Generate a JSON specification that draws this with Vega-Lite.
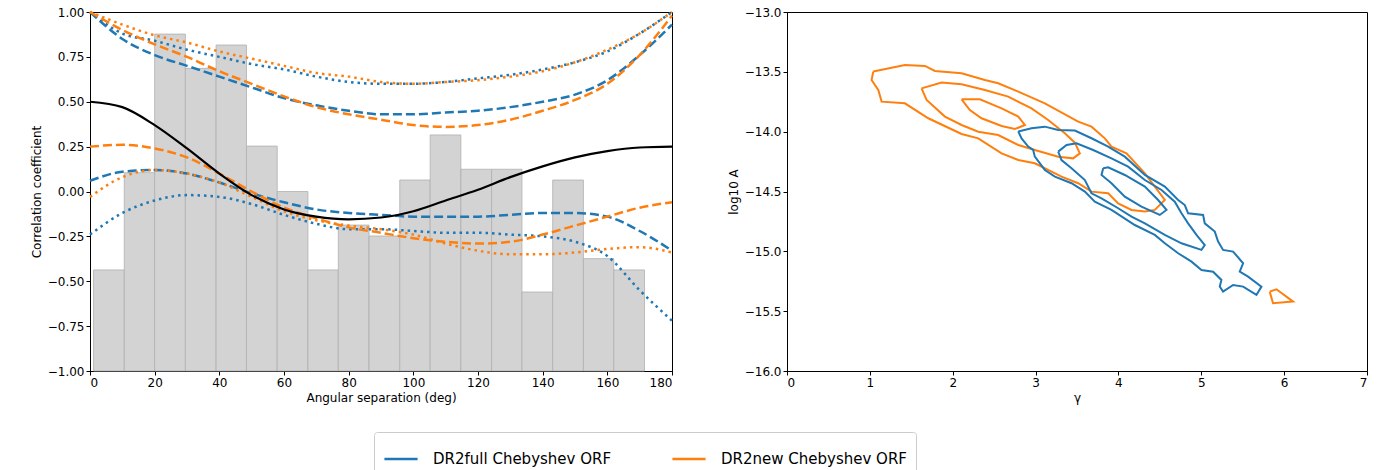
{
"$schema":"https://vega.github.io/schema/vega-lite/v6.json",
"padding":{"left":29,"top":5,"right":5,"bottom":5},
"config":{"font":"DejaVu Sans","view":{"stroke":"#000","strokeWidth":1},
"axis":{"grid":false,"domainColor":"#000","tickColor":"#000","labelColor":"#000","titleColor":"#000","labelFontSize":12,"titleFontSize":12,"titleFontWeight":"normal","tickSize":4},
"legend":{"orient":"none","legendX":284,"legendY":420,"direction":"horizontal","strokeColor":"#ccc","padding":9,"cornerRadius":3,"labelFontSize":15,"labelOffset":14,"symbolType":"stroke","symbolStrokeWidth":2.5,"symbolSize":1100,"columnPadding":55,"labelLimit":300,"title":null}},
"spacing":48,
"datasets":{
"bars":[{"a":1.1,"b":10.6,"v":-0.437},{"a":10.6,"b":20.0,"v":0.105},{"a":20.0,"b":29.5,"v":0.877},{"a":29.5,"b":39.0,"v":0.686},{"a":39.0,"b":48.4,"v":0.816},{"a":48.4,"b":57.9,"v":0.253},{"a":57.9,"b":67.4,"v":0.0},{"a":67.4,"b":76.8,"v":-0.437},{"a":76.8,"b":86.3,"v":-0.187},{"a":86.3,"b":95.8,"v":-0.248},{"a":95.8,"b":105.2,"v":0.064},{"a":105.2,"b":114.7,"v":0.315},{"a":114.7,"b":124.2,"v":0.124},{"a":124.2,"b":133.6,"v":0.124},{"a":133.6,"b":143.1,"v":-0.56},{"a":143.1,"b":152.6,"v":0.064},{"a":152.6,"b":162.0,"v":-0.374},{"a":162.0,"b":171.5,"v":-0.437}],
"curves":[
{"x":0,"hd":0.5,"bdu":1.0,"odu":1.0,"bou":1.0,"oou":1.0,"odl":0.25,"bdl":0.06,"ool":-0.03,"bol":-0.24},
{"x":10,"hd":0.47,"bdu":0.85,"odu":0.9,"bou":0.88,"oou":0.93,"odl":0.26,"bdl":0.11,"ool":0.08,"bol":-0.12},
{"x":20,"hd":0.37,"bdu":0.76,"odu":0.82,"bou":0.84,"oou":0.87,"odl":0.24,"bdl":0.12,"ool":0.12,"bol":-0.05},
{"x":30,"hd":0.24,"bdu":0.7,"odu":0.75,"bou":0.79,"oou":0.83,"odl":0.19,"bdl":0.1,"ool":0.1,"bol":-0.02},
{"x":40,"hd":0.1,"bdu":0.64,"odu":0.67,"bou":0.75,"oou":0.78,"odl":0.1,"bdl":0.05,"ool":0.05,"bol":-0.03},
{"x":50,"hd":-0.02,"bdu":0.58,"odu":0.6,"bou":0.71,"oou":0.74,"odl":0.0,"bdl":-0.01,"ool":-0.03,"bol":-0.07},
{"x":60,"hd":-0.1,"bdu":0.52,"odu":0.53,"bou":0.68,"oou":0.7,"odl":-0.09,"bdl":-0.06,"ool":-0.11,"bol":-0.13},
{"x":70,"hd":-0.14,"bdu":0.48,"odu":0.47,"bou":0.64,"oou":0.66,"odl":-0.15,"bdl":-0.1,"ool":-0.16,"bol":-0.18},
{"x":80,"hd":-0.155,"bdu":0.45,"odu":0.43,"bou":0.61,"oou":0.64,"odl":-0.2,"bdl":-0.12,"ool":-0.19,"bol":-0.21},
{"x":90,"hd":-0.145,"bdu":0.43,"odu":0.4,"bou":0.6,"oou":0.61,"odl":-0.23,"bdl":-0.13,"ool":-0.21,"bol":-0.21},
{"x":100,"hd":-0.11,"bdu":0.43,"odu":0.37,"bou":0.6,"oou":0.6,"odl":-0.26,"bdl":-0.14,"ool":-0.24,"bol":-0.22},
{"x":110,"hd":-0.05,"bdu":0.44,"odu":0.36,"bou":0.61,"oou":0.61,"odl":-0.28,"bdl":-0.14,"ool":-0.29,"bol":-0.23},
{"x":120,"hd":0.01,"bdu":0.45,"odu":0.37,"bou":0.63,"oou":0.62,"odl":-0.29,"bdl":-0.14,"ool":-0.33,"bol":-0.23},
{"x":130,"hd":0.08,"bdu":0.47,"odu":0.4,"bou":0.65,"oou":0.64,"odl":-0.28,"bdl":-0.13,"ool":-0.35,"bol":-0.24},
{"x":140,"hd":0.14,"bdu":0.5,"odu":0.45,"bou":0.68,"oou":0.67,"odl":-0.24,"bdl":-0.12,"ool":-0.35,"bol":-0.25},
{"x":150,"hd":0.19,"bdu":0.54,"odu":0.51,"bou":0.72,"oou":0.72,"odl":-0.19,"bdl":-0.12,"ool":-0.34,"bol":-0.28},
{"x":160,"hd":0.225,"bdu":0.62,"odu":0.6,"bou":0.78,"oou":0.79,"odl":-0.14,"bdl":-0.14,"ool":-0.32,"bol":-0.36},
{"x":170,"hd":0.245,"bdu":0.76,"odu":0.76,"bou":0.88,"oou":0.88,"odl":-0.09,"bdl":-0.22,"ool":-0.31,"bol":-0.55},
{"x":180,"hd":0.25,"bdu":0.93,"odu":0.98,"bou":1.0,"oou":1.0,"odl":-0.06,"bdl":-0.33,"ool":-0.34,"bol":-0.72}],
"keys":[
{"k":"bdu","run":"DR2full Chebyshev ORF","s":"dash"},{"k":"bdl","run":"DR2full Chebyshev ORF","s":"dash"},
{"k":"bou","run":"DR2full Chebyshev ORF","s":"dot"},{"k":"bol","run":"DR2full Chebyshev ORF","s":"dot"},
{"k":"odu","run":"DR2new Chebyshev ORF","s":"dash"},{"k":"odl","run":"DR2new Chebyshev ORF","s":"dash"},
{"k":"oou","run":"DR2new Chebyshev ORF","s":"dot"},{"k":"ool","run":"DR2new Chebyshev ORF","s":"dot"},
{"k":"o1","run":"DR2new Chebyshev ORF","s":"c"},{"k":"o2","run":"DR2new Chebyshev ORF","s":"c"},{"k":"o3","run":"DR2new Chebyshev ORF","s":"c"},{"k":"o4","run":"DR2new Chebyshev ORF","s":"c"},
{"k":"b1","run":"DR2full Chebyshev ORF","s":"c"},{"k":"b2","run":"DR2full Chebyshev ORF","s":"c"},{"k":"b3","run":"DR2full Chebyshev ORF","s":"c"}],
"contours":[
{"k":"o1","i":0,"g":1.041,"L":-13.498},{"k":"o1","i":1,"g":1.423,"L":-13.443},{"k":"o1","i":2,"g":1.665,"L":-13.451},{"k":"o1","i":3,"g":1.785,"L":-13.493},{"k":"o1","i":4,"g":2.107,"L":-13.512},{"k":"o1","i":5,"g":2.388,"L":-13.568},{"k":"o1","i":6,"g":2.549,"L":-13.596},{"k":"o1","i":7,"g":2.791,"L":-13.666},{"k":"o1","i":8,"g":3.112,"L":-13.763},{"k":"o1","i":9,"g":3.514,"L":-13.916},{"k":"o1","i":10,"g":3.675,"L":-13.958},{"k":"o1","i":11,"g":3.836,"L":-14.056},{"k":"o1","i":12,"g":3.916,"L":-14.125},{"k":"o1","i":13,"g":4.097,"L":-14.181},{"k":"o1","i":14,"g":4.319,"L":-14.348},{"k":"o1","i":15,"g":4.56,"L":-14.571},{"k":"o1","i":16,"g":4.439,"L":-14.654},{"k":"o1","i":17,"g":4.319,"L":-14.668},{"k":"o1","i":18,"g":4.158,"L":-14.654},{"k":"o1","i":19,"g":3.997,"L":-14.599},{"k":"o1","i":20,"g":3.876,"L":-14.515},{"k":"o1","i":21,"g":3.675,"L":-14.501},{"k":"o1","i":22,"g":3.514,"L":-14.431},{"k":"o1","i":23,"g":3.313,"L":-14.376},{"k":"o1","i":24,"g":2.991,"L":-14.264},{"k":"o1","i":25,"g":2.791,"L":-14.237},{"k":"o1","i":26,"g":2.59,"L":-14.181},{"k":"o1","i":27,"g":2.308,"L":-14.056},{"k":"o1","i":28,"g":2.107,"L":-14.019},{"k":"o1","i":29,"g":1.705,"L":-13.888},{"k":"o1","i":30,"g":1.423,"L":-13.763},{"k":"o1","i":31,"g":1.142,"L":-13.749},{"k":"o1","i":32,"g":1.102,"L":-13.652},{"k":"o1","i":33,"g":1.021,"L":-13.568},{"k":"o1","i":34,"g":1.041,"L":-13.498},
{"k":"o2","i":0,"g":1.624,"L":-13.638},{"k":"o2","i":1,"g":1.866,"L":-13.59},{"k":"o2","i":2,"g":2.107,"L":-13.604},{"k":"o2","i":3,"g":2.388,"L":-13.652},{"k":"o2","i":4,"g":2.67,"L":-13.707},{"k":"o2","i":5,"g":2.951,"L":-13.805},{"k":"o2","i":6,"g":3.152,"L":-13.902},{"k":"o2","i":7,"g":3.353,"L":-14.014},{"k":"o2","i":8,"g":3.474,"L":-14.092},{"k":"o2","i":9,"g":3.534,"L":-14.181},{"k":"o2","i":10,"g":3.454,"L":-14.223},{"k":"o2","i":11,"g":3.273,"L":-14.209},{"k":"o2","i":12,"g":2.991,"L":-14.153},{"k":"o2","i":13,"g":2.791,"L":-14.111},{"k":"o2","i":14,"g":2.549,"L":-14.028},{"k":"o2","i":15,"g":2.308,"L":-14.0},{"k":"o2","i":16,"g":2.107,"L":-13.944},{"k":"o2","i":17,"g":1.906,"L":-13.874},{"k":"o2","i":18,"g":1.685,"L":-13.735},{"k":"o2","i":19,"g":1.624,"L":-13.638},
{"k":"o3","i":0,"g":2.107,"L":-13.73},{"k":"o3","i":1,"g":2.328,"L":-13.73},{"k":"o3","i":2,"g":2.59,"L":-13.805},{"k":"o3","i":3,"g":2.791,"L":-13.874},{"k":"o3","i":4,"g":2.871,"L":-13.944},{"k":"o3","i":5,"g":2.75,"L":-13.978},{"k":"o3","i":6,"g":2.59,"L":-13.952},{"k":"o3","i":7,"g":2.348,"L":-13.888},{"k":"o3","i":8,"g":2.207,"L":-13.819},{"k":"o3","i":9,"g":2.107,"L":-13.73},
{"k":"o4","i":0,"g":5.826,"L":-15.337},{"k":"o4","i":1,"g":5.907,"L":-15.317},{"k":"o4","i":2,"g":6.108,"L":-15.42},{"k":"o4","i":3,"g":5.866,"L":-15.434},{"k":"o4","i":4,"g":5.826,"L":-15.337},
{"k":"b1","i":0,"g":2.791,"L":-13.998},{"k":"b1","i":1,"g":2.951,"L":-13.972},{"k":"b1","i":2,"g":3.112,"L":-13.958},{"k":"b1","i":3,"g":3.273,"L":-13.986},{"k":"b1","i":4,"g":3.474,"L":-13.991},{"k":"b1","i":5,"g":3.675,"L":-14.055},{"k":"b1","i":6,"g":3.876,"L":-14.125},{"k":"b1","i":7,"g":4.077,"L":-14.209},{"k":"b1","i":8,"g":4.319,"L":-14.362},{"k":"b1","i":9,"g":4.56,"L":-14.459},{"k":"b1","i":10,"g":4.721,"L":-14.571},{"k":"b1","i":11,"g":4.801,"L":-14.613},{"k":"b1","i":12,"g":4.841,"L":-14.682},{"k":"b1","i":13,"g":5.022,"L":-14.696},{"k":"b1","i":14,"g":5.042,"L":-14.766},{"k":"b1","i":15,"g":5.163,"L":-14.835},{"k":"b1","i":16,"g":5.203,"L":-14.919},{"k":"b1","i":17,"g":5.263,"L":-14.988},{"k":"b1","i":18,"g":5.384,"L":-15.002},{"k":"b1","i":19,"g":5.505,"L":-15.1},{"k":"b1","i":20,"g":5.464,"L":-15.17},{"k":"b1","i":21,"g":5.565,"L":-15.211},{"k":"b1","i":22,"g":5.726,"L":-15.295},{"k":"b1","i":23,"g":5.666,"L":-15.364},{"k":"b1","i":24,"g":5.505,"L":-15.295},{"k":"b1","i":25,"g":5.384,"L":-15.281},{"k":"b1","i":26,"g":5.263,"L":-15.337},{"k":"b1","i":27,"g":5.223,"L":-15.295},{"k":"b1","i":28,"g":5.243,"L":-15.239},{"k":"b1","i":29,"g":5.143,"L":-15.17},{"k":"b1","i":30,"g":5.002,"L":-15.156},{"k":"b1","i":31,"g":4.882,"L":-15.086},{"k":"b1","i":32,"g":4.721,"L":-15.016},{"k":"b1","i":33,"g":4.56,"L":-14.933},{"k":"b1","i":34,"g":4.439,"L":-14.863},{"k":"b1","i":35,"g":4.198,"L":-14.78},{"k":"b1","i":36,"g":3.916,"L":-14.654},{"k":"b1","i":37,"g":3.715,"L":-14.585},{"k":"b1","i":38,"g":3.595,"L":-14.501},{"k":"b1","i":39,"g":3.434,"L":-14.431},{"k":"b1","i":40,"g":3.233,"L":-14.376},{"k":"b1","i":41,"g":3.112,"L":-14.32},{"k":"b1","i":42,"g":2.991,"L":-14.209},{"k":"b1","i":43,"g":2.971,"L":-14.153},{"k":"b1","i":44,"g":2.911,"L":-14.125},{"k":"b1","i":45,"g":2.831,"L":-14.056},{"k":"b1","i":46,"g":2.791,"L":-13.998},
{"k":"b2","i":0,"g":3.273,"L":-14.167},{"k":"b2","i":1,"g":3.374,"L":-14.111},{"k":"b2","i":2,"g":3.494,"L":-14.097},{"k":"b2","i":3,"g":3.695,"L":-14.153},{"k":"b2","i":4,"g":3.916,"L":-14.223},{"k":"b2","i":5,"g":4.117,"L":-14.292},{"k":"b2","i":6,"g":4.319,"L":-14.404},{"k":"b2","i":7,"g":4.52,"L":-14.487},{"k":"b2","i":8,"g":4.68,"L":-14.585},{"k":"b2","i":9,"g":4.761,"L":-14.682},{"k":"b2","i":10,"g":4.841,"L":-14.766},{"k":"b2","i":11,"g":4.942,"L":-14.863},{"k":"b2","i":12,"g":5.042,"L":-14.947},{"k":"b2","i":13,"g":5.002,"L":-14.988},{"k":"b2","i":14,"g":4.761,"L":-14.933},{"k":"b2","i":15,"g":4.56,"L":-14.863},{"k":"b2","i":16,"g":4.319,"L":-14.766},{"k":"b2","i":17,"g":4.158,"L":-14.71},{"k":"b2","i":18,"g":3.997,"L":-14.64},{"k":"b2","i":19,"g":3.796,"L":-14.557},{"k":"b2","i":20,"g":3.675,"L":-14.515},{"k":"b2","i":21,"g":3.595,"L":-14.404},{"k":"b2","i":22,"g":3.434,"L":-14.306},{"k":"b2","i":23,"g":3.313,"L":-14.237},{"k":"b2","i":24,"g":3.273,"L":-14.167},
{"k":"b3","i":0,"g":3.816,"L":-14.306},{"k":"b3","i":1,"g":3.876,"L":-14.298},{"k":"b3","i":2,"g":4.077,"L":-14.362},{"k":"b3","i":3,"g":4.319,"L":-14.459},{"k":"b3","i":4,"g":4.479,"L":-14.571},{"k":"b3","i":5,"g":4.58,"L":-14.654},{"k":"b3","i":6,"g":4.499,"L":-14.696},{"k":"b3","i":7,"g":4.278,"L":-14.626},{"k":"b3","i":8,"g":4.077,"L":-14.543},{"k":"b3","i":9,"g":3.916,"L":-14.431},{"k":"b3","i":10,"g":3.796,"L":-14.362},{"k":"b3","i":11,"g":3.816,"L":-14.306}]
},
"hconcat":[
{"width":582,"height":359,
"layer":[
{"data":{"name":"bars"},"mark":{"type":"rect","color":"#d3d3d3","stroke":"#b0b0b0","strokeWidth":0.8},
"encoding":{"x":{"field":"a","type":"quantitative","scale":{"domain":[0,180],"nice":false},"axis":{"values":[0,20,40,60,80,100,120,140,160,180],"title":"Angular separation (deg)"}},"x2":{"field":"b"},
"y":{"field":"v","type":"quantitative","scale":{"domain":[-1,1],"nice":false},"axis":{"values":[-1,-0.75,-0.5,-0.25,0,0.25,0.5,0.75,1],"format":".2f","title":"Correlation coefficient"}},"y2":{"datum":-1}}},
{"data":{"name":"curves"},"transform":[{"fold":["bdu","bdl","bou","bol","odu","odl","oou","ool"],"as":["k","val"]},{"lookup":"k","from":{"data":{"name":"keys"},"key":"k","fields":["run","s"]}}],
"mark":{"type":"line","strokeWidth":2.5,"interpolate":"monotone"},
"encoding":{"x":{"field":"x","type":"quantitative"},"y":{"field":"val","type":"quantitative"},"detail":{"field":"k"},
"color":{"field":"run","type":"nominal","scale":{"domain":["DR2full Chebyshev ORF","DR2new Chebyshev ORF"],"range":["#1f77b4","#ff7f0e"]}},
"strokeDash":{"field":"s","type":"nominal","scale":{"domain":["dash","dot"],"range":[[9,4],[2.5,4]]},"legend":null}}},
{"data":{"name":"curves"},"mark":{"type":"line","strokeWidth":2.2,"color":"#000","interpolate":"monotone"},
"encoding":{"x":{"field":"x","type":"quantitative"},"y":{"field":"hd","type":"quantitative"}}},
{"mark":{"type":"rule","color":"#000","strokeWidth":1.8,"strokeDash":[6,4]},"encoding":{"y":{"datum":0}}}
]},
{"width":580,"height":359,
"layer":[
{"data":{"name":"contours"},"transform":[{"lookup":"k","from":{"data":{"name":"keys"},"key":"k","fields":["run"]}}],
"mark":{"type":"line","strokeWidth":2},
"encoding":{"x":{"field":"g","type":"quantitative","scale":{"domain":[0,7],"nice":false},"axis":{"values":[0,1,2,3,4,5,6,7],"format":"d","title":"γ"}},
"y":{"field":"L","type":"quantitative","scale":{"domain":[-16,-13],"nice":false,"zero":false},"axis":{"values":[-16,-15.5,-15,-14.5,-14,-13.5,-13],"format":".1f","title":"log10 A"}},
"order":{"field":"i"},"detail":{"field":"k"},
"color":{"field":"run","type":"nominal"}}},
{"mark":{"type":"rule","color":"#444","strokeWidth":1.8,"strokeDash":[6,4]},"encoding":{"x":{"datum":4.33}}}
]}
]
}
